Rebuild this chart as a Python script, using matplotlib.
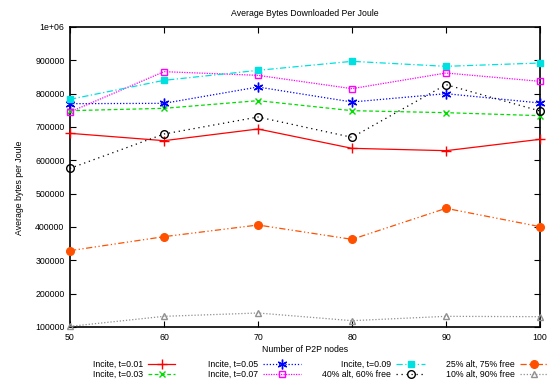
import matplotlib
matplotlib.use('Agg')
import matplotlib.pyplot as plt
from matplotlib.lines import Line2D

plt.rcParams['font.family'] = ['Liberation Sans', 'DejaVu Sans']

# Number of P2P nodes on the x axis
nodes = [50, 60, 70, 80, 90, 100]

# Average bytes downloaded per joule for each configuration
incite_001 = [681000, 659000, 694000, 636000, 629000, 663000]
incite_003 = [749000, 756000, 779000, 749000, 743000, 734000]
incite_005 = [770000, 771000, 820000, 775000, 800000, 772000]
incite_007 = [745000, 866000, 855000, 815000, 862000, 837000]
incite_009 = [783000, 840000, 870000, 897000, 882000, 892000]
alt_40 = [576000, 679000, 730000, 669000, 827000, 748000]
alt_25 = [329000, 371000, 406000, 363000, 456000, 401000]
alt_10 = [102000, 132000, 142000, 119000, 132000, 131000]

labels = ['Incite, t=0.01', 'Incite, t=0.03', 'Incite, t=0.05', 'Incite, t=0.07',
          'Incite, t=0.09', '40% alt, 60% free', '25% alt, 75% free', '10% alt, 90% free']
series = [incite_001, incite_003, incite_005, incite_007, incite_009, alt_40, alt_25, alt_10]

y_ticks = [100000, 200000, 300000, 400000, 500000, 600000, 700000, 800000, 900000, 1000000]
y_tick_labels = ['100000', '200000', '300000', '400000', '500000', '600000',
                 '700000', '800000', '900000', '1e+06']

# gnuplot-like styles: colour, dash pattern, marker, filled
asterisk = (6, 2, 0)
styles = [
    dict(color='#ff0000', ls='-', marker='+', mfc='none', ms=7),
    dict(color='#00dd00', ls=(0, (3, 2)), marker='x', mfc='none', ms=5),
    dict(color='#0000ff', ls=(0, (1, 1.5)), marker=asterisk, mfc='none', ms=7),
    dict(color='#ff00ff', ls=(0, (1, 1)), marker='s', mfc='none', ms=5),
    dict(color='#00e0e0', ls=(0, (5, 2, 1, 2)), marker='s', mfc='#00e0e0', ms=5),
    dict(color='#000000', ls=(0, (1, 3)), marker='o', mfc='none', ms=5.5),
    dict(color='#ff5000', ls=(0, (5, 2, 1, 2, 1, 2)), marker='o', mfc='#ff5000', ms=5.5),
    dict(color='#909090', ls=(0, (1, 1.5)), marker='^', mfc='none', ms=5),
]

fig = plt.figure(figsize=(5.5, 3.79), dpi=100)
W, H = 550, 379
ax = fig.add_axes([70 / W, 1 - 327 / H, 470 / W, 300 / H])

for vals, st in zip(series, styles):
    ax.plot(nodes, vals, color=st['color'], ls=st['ls'], lw=0.9,
            marker=st['marker'], mfc=st['mfc'], mec=st['color'], ms=st['ms'],
            mew=1.0, clip_on=False, zorder=3)

ax.set_xlim(50, 100)
ax.set_ylim(100000, 1000000)
ax.set_xticks(nodes)
ax.set_yticks(y_ticks)
ax.set_yticklabels(y_tick_labels)
ax.tick_params(direction='in', length=4, width=0.8, labelsize=6.3,
               top=True, right=True, pad=4)
for sp in ax.spines.values():
    sp.set_linewidth(1.2)

fig.text(305 / W, 1 - 14 / H, 'Average Bytes Downloaded Per Joule',
         ha='center', va='center', fontsize=6.3)
fig.text(305 / W, 1 - 349 / H, 'Number of P2P nodes',
         ha='center', va='center', fontsize=6.3)
fig.text(20 / W, 1 - 188 / H, 'Average bytes per Joule', rotation=90,
         ha='center', va='center', fontsize=6.3)

# Legend laid out in four columns, text right-aligned before the line sample
col_text_end = [143, 258, 391, 515]
col_line = [(148, 175), (263, 301), (396, 425), (520, 548)]
row_y = [364, 374]
for i, (lab, st) in enumerate(zip(labels, styles)):
    col, row = i // 2, i % 2
    y = 1 - row_y[row] / H
    fig.text((col_text_end[col]) / W, y, lab, ha='right', va='center', fontsize=6.3)
    x0, x1 = col_line[col]
    fig.add_artist(Line2D([x0 / W, x1 / W], [y, y], color=st['color'], ls=st['ls'],
                          lw=0.9, transform=fig.transFigure))
    fig.add_artist(Line2D([(x0 + x1) / 2 / W], [y], color=st['color'], ls='none',
                          marker=st['marker'], mfc=st['mfc'], mec=st['color'],
                          ms=st['ms'], mew=1.0, transform=fig.transFigure))

fig.savefig('out.png', dpi=100)
